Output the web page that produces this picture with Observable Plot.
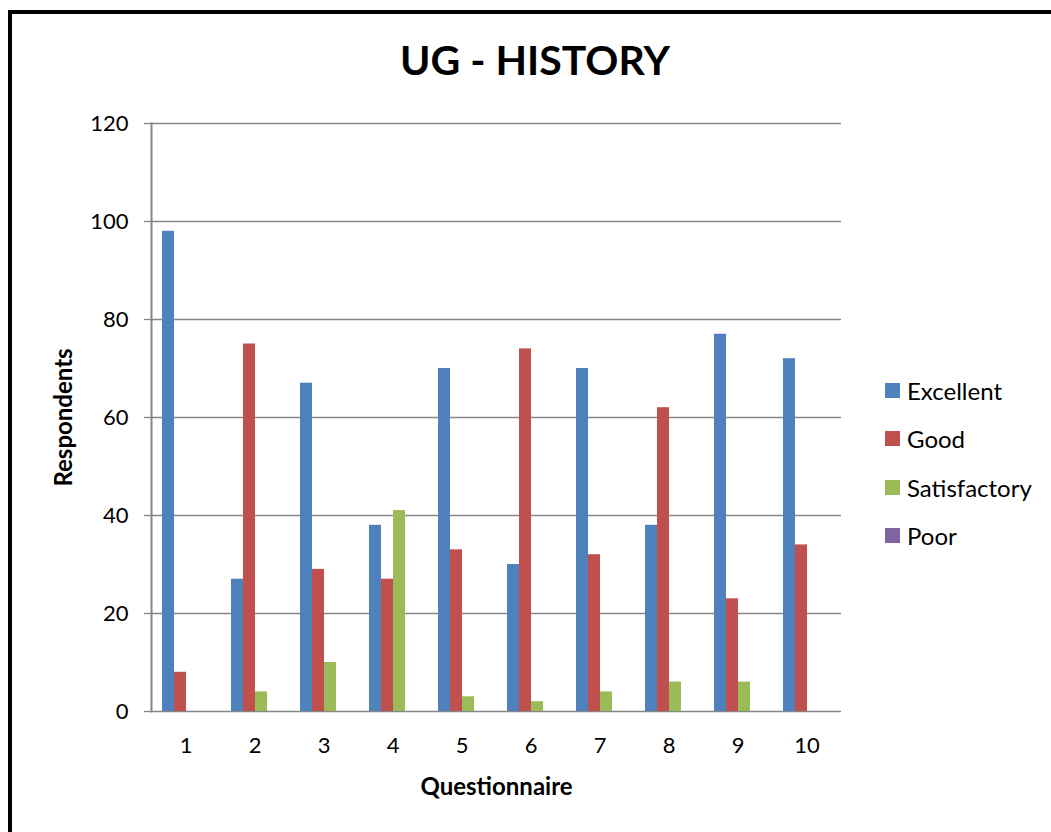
<!DOCTYPE html>
<html>
<head>
<meta charset="utf-8">
<script src="https://cdn.jsdelivr.net/npm/d3@7"></script>
<script src="https://cdn.jsdelivr.net/npm/@observablehq/plot@0.6"></script>
<style>
  html, body { margin: 0; padding: 0; background: #fff; overflow: hidden; }
  #wrap { position: relative; width: 1051px; height: 832px; font-family: Lato, "Noto Sans", sans-serif; }
  #border { position: absolute; left: 8px; top: 10px; width: 2000px; height: 2000px; border: 4px solid #000; box-sizing: border-box; }
  #title { position: absolute; left: 0; width: 1070px; top: 32px; text-align: center; font-weight: bold; font-size: 41px; line-height: 56px; color: #000; }
  #chart { position: absolute; left: 0; top: 0; }
  #legend { position: absolute; left: 885px; top: 366px; }
  .li { display: flex; align-items: center; height: 48.5px; font-size: 24px; color: #000; }
  .sw { width: 15px; height: 15px; margin-right: 7px; }
  svg text { font-family: Lato, "Noto Sans", sans-serif; }
  g[aria-label="y-axis tick label"] text, g[aria-label="fx-axis tick label"] text { font-size: 22px; }
  g[aria-label="y-axis label"] text, g[aria-label="fx-axis label"] text { font-weight: bold; font-size: 24px; }
</style>
</head>
<body>
<div id="wrap">
  <div id="border"></div>
  <div id="chart"></div>
  <div id="title">UG - HISTORY</div>
  <div id="legend"></div>
</div>
<script>
const questions = ["1", "2", "3", "4", "5", "6", "7", "8", "9", "10"];
const seriesNames = ["Excellent", "Good", "Satisfactory", "Poor"];
const excellent = [98, 27, 67, 38, 70, 30, 70, 38, 77, 72];
const good = [8, 75, 29, 27, 33, 74, 32, 62, 23, 34];
const satisfactory = [0, 4, 10, 41, 3, 2, 4, 6, 6, 0];
const poor = [0, 0, 0, 0, 0, 0, 0, 0, 0, 0];
const yTicks = [0, 20, 40, 60, 80, 100, 120];
const colors = ["#4F81BD", "#C0504D", "#9BBB59", "#8064A2"];

const seriesValues = [excellent, good, satisfactory, poor];
const data = [];
questions.forEach((q, i) => {
  seriesNames.forEach((s, j) => data.push({q, s, v: seriesValues[j][i]}));
});

const chart = Plot.plot({
  width: 1051,
  height: 832,
  marginLeft: 148,
  marginRight: 208,
  marginTop: 123,
  marginBottom: 121,
  style: {fontSize: "22px", color: "#000", background: "transparent"},
  fx: {domain: questions, padding: 0, label: null, axis: null},
  x: {domain: seriesNames, paddingInner: 0, paddingOuter: 0.732, axis: null},
  y: {domain: [0, 120], axis: null},
  color: {domain: seriesNames, range: colors},
  marks: [
    Plot.ruleY(yTicks, {stroke: "#868686", strokeWidth: 1.3}),
    Plot.barY(data, {fx: "q", x: "s", y: "v", fill: "s"}),
    Plot.axisY({ticks: yTicks, tickSize: 7, tickPadding: 16, stroke: "#868686", strokeWidth: 1.3, label: "Respondents", labelAnchor: "center", labelArrow: "none", labelOffset: 97}),
    Plot.frame({anchor: "left", facetAnchor: "left", stroke: "#868686", strokeWidth: 2}),
    Plot.axisFx({anchor: "bottom", tickSize: 0, tickPadding: 26, label: "Questionnaire", labelAnchor: "center", labelOffset: 83})
  ]
});
document.getElementById("chart").appendChild(chart);

const legend = document.getElementById("legend");
seriesNames.forEach((s, j) => {
  const row = document.createElement("div");
  row.className = "li";
  const sw = document.createElement("div");
  sw.className = "sw";
  sw.style.background = colors[j];
  const t = document.createElement("span");
  t.textContent = s;
  row.appendChild(sw);
  row.appendChild(t);
  legend.appendChild(row);
});
</script>
</body>
</html>
